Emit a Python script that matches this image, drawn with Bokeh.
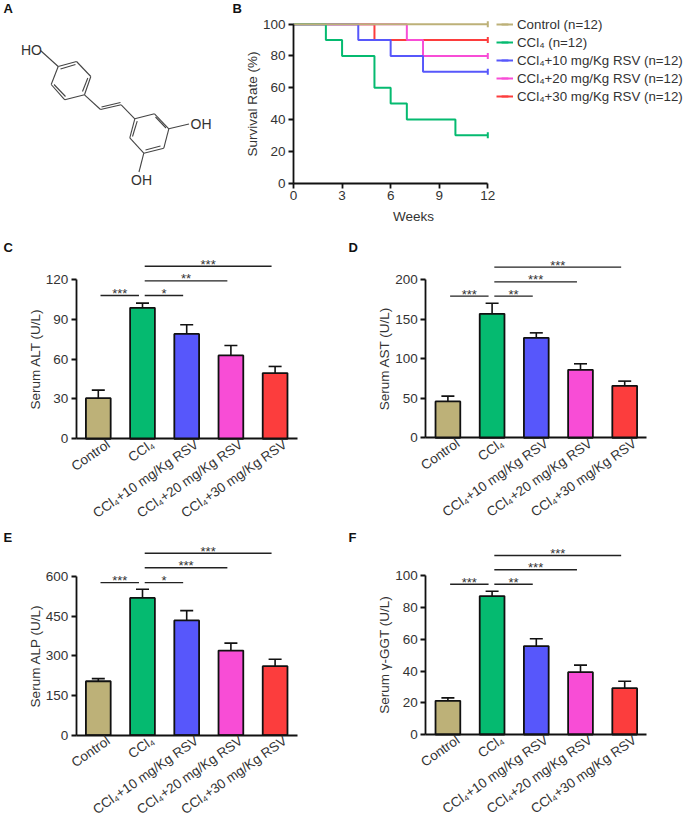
import math
from bokeh.plotting import figure
from bokeh.layouts import column, row
from bokeh.models import (Range1d, FixedTicker, Label, Legend, LegendItem, Whisker, TeeHead,
                          ColumnDataSource)
from bokeh.core.properties import value
from bokeh.embed import file_html
from bokeh.resources import INLINE

FONT = "Liberation Sans"
TXT = "#333333"
FS = "13.5px"

categories = ["Control", "CCl₄", "CCl₄+10 mg/Kg RSV", "CCl₄+20 mg/Kg RSV", "CCl₄+30 mg/Kg RSV"]
colors = ["#BDB178", "#05BA70", "#5757FB", "#F84DD6", "#FC3D3D"]
positions = [1, 2, 3, 4, 5]

alt_vals = [30.6, 98.7, 79.0, 62.8, 49.5]
alt_tops = [36.7, 102.2, 85.9, 70.3, 54.5]
ast_vals = [46, 156.6, 126.3, 85.9, 65.7]
ast_tops = [52.6, 170, 132.6, 93.5, 71.6]
alp_vals = [204, 519, 434, 320, 261]
alp_tops = [214, 552, 471, 348, 287]
ggt_vals = [21.2, 87.2, 55.7, 39.3, 29.2]
ggt_tops = [23.1, 90.3, 60.3, 43.7, 33.6]

alt_ticks = [0, 30, 60, 90, 120]
ast_ticks = [0, 50, 100, 150, 200]
alp_ticks = [0, 150, 300, 450, 600]
ggt_ticks = [0, 20, 40, 60, 80, 100]

# (from group, to group, height, stars)
alt_sig = [(1, 2, 108, "***"), (2, 3, 108, "*"), (2, 4, 119, "**"), (2, 5, 130, "***")]
ast_sig = [(1, 2, 179, "***"), (2, 3, 179, "**"), (2, 4, 197, "***"), (2, 5, 215.6, "***")]
alp_sig = [(1, 2, 577, "***"), (2, 3, 577, "*"), (2, 4, 633, "***"), (2, 5, 688, "***")]
ggt_sig = [(1, 2, 94.7, "***"), (2, 3, 94.7, "**"), (2, 4, 103.8, "***"), (2, 5, 112.8, "***")]

weeks_control = [0, 12]
surv_control = [100, 100]
weeks_ccl4 = [0, 2, 3, 5, 6, 7, 10, 12]
surv_ccl4 = [100, 90, 80, 60, 50, 40, 30, 30]
weeks_10 = [0, 4, 6, 8, 12]
surv_10 = [100, 90, 80, 70, 70]
weeks_20 = [0, 7, 8, 12]
surv_20 = [100, 90, 80, 80]
weeks_30 = [0, 5, 12]
surv_30 = [100, 90, 90]
legend_labels = ["Control (n=12)", "CCl₄ (n=12)", "CCl₄+10 mg/Kg RSV (n=12)",
                 "CCl₄+20 mg/Kg RSV (n=12)", "CCl₄+30 mg/Kg RSV (n=12)"]

# resveratrol structure, in drawing units
bonds = [
    (57.7, 66, 76, 61), (76, 61, 90.3, 76), (90.3, 76, 84, 94.3), (84, 94.3, 64.3, 99.3),
    (64.3, 99.3, 50.7, 84), (50.7, 84, 57.7, 66),
    (60, 68.5, 75, 64), (87.3, 77.5, 82, 91), (65, 96, 53.5, 84),
    (40, 50, 57.7, 66), (84, 94.3, 100, 109), (100, 109, 120.7, 104.3), (101, 106.5, 120, 102),
    (120.7, 104.3, 134.3, 118.3),
    (134.3, 118.3, 154, 113.3), (154, 113.3, 168.3, 128.3), (168.3, 128.3, 163.3, 147.7),
    (163.3, 147.7, 143.3, 152.7), (143.3, 152.7, 129.3, 137.3), (129.3, 137.3, 134.3, 118.3),
    (155, 116.5, 165.5, 127.5), (160, 145.5, 145, 149.5), (132, 136, 136.7, 120.7),
    (168.3, 128.3, 188.5, 123.5), (143.3, 152.7, 138.5, 171.5),
]
atoms = ["HO", "OH", "OH"]
atom_x = [31, 200.5, 141]
atom_y = [49.5, 123.5, 179]


def letter(p, s, x, y):
    p.add_layout(Label(x=x, y=y, x_units="canvas", y_units="canvas", text=s,
                       text_font=FONT, text_font_size="13px", text_font_style="bold",
                       text_color="#111111", text_baseline="middle", text_align="left"))


def style_axis(ax):
    ax.major_label_text_font = FONT
    ax.major_label_text_font_size = FS
    ax.major_label_text_color = TXT
    ax.axis_label_text_font = FONT
    ax.axis_label_text_font_size = FS
    ax.axis_label_text_font_style = "normal"
    ax.axis_label_text_color = TXT
    ax.axis_label_standoff = 0
    ax.axis_line_color = "#111111"
    ax.axis_line_width = 1.8
    ax.major_tick_line_color = "#111111"
    ax.major_tick_line_width = 1.8
    ax.major_tick_in = 0
    ax.major_tick_out = 5
    ax.minor_tick_line_color = None
    ax.major_label_standoff = 3


def panel(w, h, x_left, x0_value, xscale, y_zero, yscale):
    """A figure whose plot area is the whole canvas; the axes sit at fixed data places."""
    xs = x0_value - x_left / xscale
    p = figure(width=w, height=h, output_backend="svg", toolbar_location=None,
               x_range=Range1d(xs, xs + w / xscale),
               y_range=Range1d(-(h - y_zero) / yscale, y_zero / yscale),
               min_border=0, outline_line_color=None)
    p.grid.visible = False
    style_axis(p.xaxis[0])
    style_axis(p.yaxis[0])
    p.xaxis[0].fixed_location = 0
    p.yaxis[0].fixed_location = x0_value
    return p


# ---- panel A
pa = figure(width=230, height=240, output_backend="svg", toolbar_location=None,
            x_range=Range1d(0, 230), y_range=Range1d(240, 0), min_border=0, outline_line_color=None)
pa.axis.visible = False
pa.grid.visible = False
pa.segment([b[0] for b in bonds], [b[1] for b in bonds], [b[2] for b in bonds], [b[3] for b in bonds],
           line_color="#444444", line_width=1.1)
pa.text(atom_x, atom_y, text=atoms, text_font=value(FONT), text_font_size="14px", text_color=TXT,
        text_align="center", text_baseline="middle")
letter(pa, "A", 3, 8)

# ---- panel B
pb = panel(455, 240, 63, 0, (487.3 - 293) / 12, 182.5, (182.5 - 23.7) / 100)
pb.xaxis[0].ticker = FixedTicker(ticks=[0, 3, 6, 9, 12])
pb.yaxis[0].ticker = FixedTicker(ticks=[0, 20, 40, 60, 80, 100])
pb.xaxis[0].bounds = (0, 12)
pb.yaxis[0].bounds = (0, 100)
pb.yaxis[0].axis_label = "Survival Rate (%)"
curves = [(weeks_30, surv_30, 4), (weeks_20, surv_20, 3), (weeks_10, surv_10, 2),
          (weeks_ccl4, surv_ccl4, 1), (weeks_control, surv_control, 0)]
items = {}
for wk, sv, idx in curves:
    ln = pb.step(wk, sv, mode="after", line_color=colors[idx], line_width=2)
    mk = pb.scatter([wk[-1]], [sv[-1]], marker="dash", angle=math.pi / 2, size=6,
                    line_color=colors[idx], line_width=2)
    items[idx] = [ln, mk]
legend = Legend(items=[LegendItem(label=legend_labels[i], renderers=items[i]) for i in range(5)],
                location=(266, 135), orientation="vertical", border_line_color=None,
                background_fill_alpha=0, margin=0, padding=0, spacing=0,
                glyph_width=17, glyph_height=18, label_height=18, label_standoff=4,
                label_text_font=FONT, label_text_font_size="13.3px", label_text_color=TXT)
pb.add_layout(legend, "center")
pb.add_layout(Label(x=183, y=216, x_units="canvas", y_units="canvas", text="Weeks",
                    text_font=FONT, text_font_size=FS, text_color=TXT,
                    text_align="center", text_baseline="middle"))
letter(pb, "B", 2, 8)


# ---- bar panels
def bar_panel(vals, tops, ticks, sig, ylabel, let, w, h, left, y_zero, y_top, lx):
    p = panel(w, h, left, 0.5, 44.2, y_zero, (y_zero - y_top) / ticks[-1])
    # label anchors sit right of each bar's centre, as the angled labels do in the source
    label_ticks = [q + 0.23 for q in positions]
    p.xaxis[0].ticker = FixedTicker(ticks=label_ticks)
    p.xaxis[0].major_label_overrides = {k: c for k, c in zip(label_ticks, categories)}
    p.xaxis[0].major_label_orientation = math.radians(35)
    p.xaxis[0].major_tick_out = 0
    p.xaxis[0].major_label_standoff = 4
    p.xaxis[0].bounds = (0.5, 5.5)
    p.yaxis[0].ticker = FixedTicker(ticks=ticks)
    p.yaxis[0].bounds = (0, ticks[-1])
    p.yaxis[0].axis_label = ylabel
    p.vbar(x=positions, top=vals, width=0.56, fill_color=colors, line_color="#111111", line_width=1.8)
    src = ColumnDataSource(dict(x=positions, lo=vals, hi=tops))
    p.add_layout(Whisker(source=src, base="x", lower="lo", upper="hi", dimension="height",
                         line_color="#111111", line_width=1.6, lower_head=None,
                         upper_head=TeeHead(size=13, line_color="#111111", line_width=1.6)))
    for a, b, y, s in sig:
        x0 = a + 0.05
        x1 = b - 0.08
        p.segment([x0], [y], [x1], [y], line_color="#222222", line_width=1.4)
        p.text([(x0 + x1) / 2], [y], text=[s], text_font=value(FONT), text_font_size="13px",
               text_color=TXT, text_align="center", text_baseline="alphabetic", y_offset=-2)
    letter(p, let, lx, 7)
    return p


pc = bar_panel(alt_vals, alt_tops, alt_ticks, alt_sig, "Serum ALT (U/L)", "C", 340, 290, 75.7, 198.3, 39, 3)
pd_ = bar_panel(ast_vals, ast_tops, ast_ticks, ast_sig, "Serum AST (U/L)", "D", 345, 290, 85.3, 197.3, 39, 8)
pe = bar_panel(alp_vals, alp_tops, alp_ticks, alp_sig, "Serum ALP (U/L)", "E", 340, 288, 75.7, 204.7, 46, 3)
pf = bar_panel(ggt_vals, ggt_tops, ggt_ticks, ggt_sig, "Serum γ-GGT (U/L)", "F", 345, 288, 85.3, 204, 45.3, 8)

page = column(row(pa, pb, spacing=0), row(pc, pd_, spacing=0), row(pe, pf, spacing=0), spacing=0)
open("out.html", "w").write(file_html(page, INLINE))
